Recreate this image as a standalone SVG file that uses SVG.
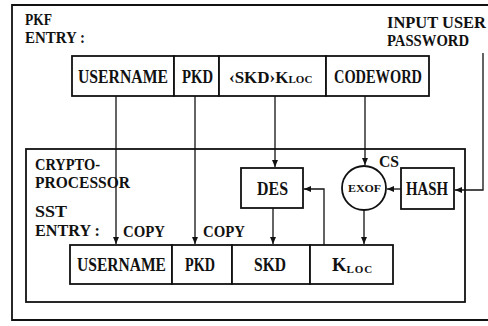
<svg xmlns="http://www.w3.org/2000/svg" width="488" height="326" viewBox="0 0 488 326">
<defs>
<marker id="ah" markerWidth="8" markerHeight="8" refX="7" refY="4" orient="auto" markerUnits="userSpaceOnUse">
<path d="M0,1 L7,4 L0,7 Z" fill="#111"/>
</marker>
<style>
.t{font-family:"Liberation Serif","DejaVu Serif",serif;font-weight:bold;font-size:17px;fill:#111}
.n{font-family:"Liberation Serif","DejaVu Serif",serif;font-weight:bold;font-size:18.5px;fill:#111}
.s{font-family:"Liberation Serif","DejaVu Serif",serif;font-weight:bold;font-size:11px;fill:#111}
.b{fill:#fff;stroke:#111;stroke-width:1.8}
.c{fill:none;stroke:#111;stroke-width:1.3}
.f{fill:none;stroke:#111;stroke-width:1.8}
</style>
</defs>
<rect width="488" height="326" fill="#fff"/>
<g id="outer">
<path class="f" d="M492,5 L12,5 L12,320 L492,320"/>
<text class="t" x="25" y="25" textLength="27" lengthAdjust="spacingAndGlyphs">PKF</text>
<text class="t" x="25" y="43" textLength="60" lengthAdjust="spacingAndGlyphs">ENTRY :</text>
<text class="t" x="387" y="28" textLength="99" lengthAdjust="spacingAndGlyphs">INPUT USER</text>
<text class="t" x="387" y="46" textLength="82" lengthAdjust="spacingAndGlyphs">PASSWORD</text>
</g>
<g id="crypto">
<rect class="f" x="26" y="149" width="439" height="153"/>
<text class="t" x="35" y="170" textLength="65" lengthAdjust="spacingAndGlyphs">CRYPTO-</text>
<text class="t" x="35" y="188" textLength="95" lengthAdjust="spacingAndGlyphs">PROCESSOR</text>
<text class="t" x="35" y="217" textLength="32" lengthAdjust="spacingAndGlyphs">SST</text>
<text class="t" x="35" y="236" textLength="65" lengthAdjust="spacingAndGlyphs">ENTRY :</text>
</g>
<g id="pkf-username"><rect class="b" x="72" y="56" width="102" height="40"/><text class="n" x="78" y="83" textLength="90" lengthAdjust="spacingAndGlyphs">USERNAME</text></g>
<g id="pkf-pkd"><rect class="b" x="174" y="56" width="45" height="40"/><text class="n" x="182" y="83" textLength="31" lengthAdjust="spacingAndGlyphs">PKD</text></g>
<g id="pkf-skd"><rect class="b" x="219" y="56" width="107" height="40"/><text class="t" x="229" y="83">‹SKD›K<tspan font-size="11">LOC</tspan></text></g>
<g id="pkf-codeword"><rect class="b" x="326" y="56" width="103" height="40"/><text class="n" x="334" y="83" textLength="88" lengthAdjust="spacingAndGlyphs">CODEWORD</text></g>
<g id="des"><rect class="b" x="241" y="168" width="62" height="40"/><text class="n" x="257" y="195" textLength="31" lengthAdjust="spacingAndGlyphs">DES</text></g>
<g id="exof"><circle class="b" cx="364" cy="188" r="22"/><text class="s" x="348" y="192" textLength="33" lengthAdjust="spacingAndGlyphs">EXOF</text><text class="t" x="379" y="167" textLength="20" lengthAdjust="spacingAndGlyphs">CS</text></g>
<g id="hash"><rect class="b" x="401" y="168" width="53" height="41"/><text class="n" x="406" y="195" textLength="42" lengthAdjust="spacingAndGlyphs">HASH</text></g>
<g id="sst-username"><rect class="b" x="70" y="245" width="102" height="39"/><text class="n" x="77" y="271" textLength="89" lengthAdjust="spacingAndGlyphs">USERNAME</text></g>
<g id="sst-pkd"><rect class="b" x="172" y="245" width="60" height="39"/><text class="n" x="185" y="271" textLength="30" lengthAdjust="spacingAndGlyphs">PKD</text></g>
<g id="sst-skd"><rect class="b" x="232" y="245" width="78" height="39"/><text class="n" x="254" y="271" textLength="32" lengthAdjust="spacingAndGlyphs">SKD</text></g>
<g id="sst-kloc"><rect class="b" x="310" y="245" width="83" height="39"/><text class="n" x="332" y="271">K<tspan font-size="11" dy="2" letter-spacing="1">LOC</tspan></text></g>
<g id="connectors">
<path class="c" d="M116,96 L116,244" marker-end="url(#ah)"/>
<path class="c" d="M195,96 L195,244" marker-end="url(#ah)"/>
<path class="c" d="M275,96 L275,167" marker-end="url(#ah)"/>
<path class="c" d="M365,96 L365,165" marker-end="url(#ah)"/>
<path class="c" d="M483,53 L483,190 L455,190" marker-end="url(#ah)"/>
<path class="c" d="M401,189 L387,189" marker-end="url(#ah)"/>
<path class="c" d="M324,245 L324,189 L304,189" marker-end="url(#ah)"/>
<path class="c" d="M273,208 L273,244" marker-end="url(#ah)"/>
<path class="c" d="M364,210 L364,244" marker-end="url(#ah)"/>
<text class="t" x="123" y="237" textLength="42" lengthAdjust="spacingAndGlyphs">COPY</text>
<text class="t" x="203" y="237" textLength="42" lengthAdjust="spacingAndGlyphs">COPY</text>
</g>
</svg>
